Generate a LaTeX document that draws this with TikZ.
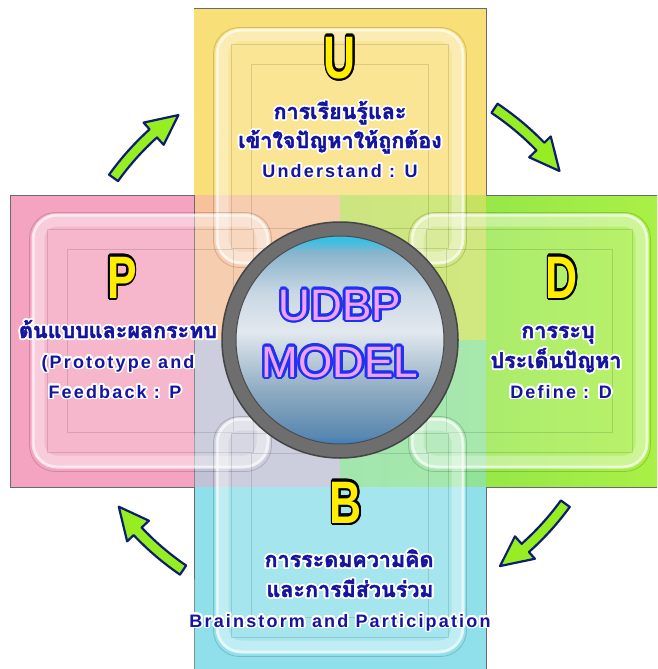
\documentclass[tikz,border=0pt]{standalone}
\usepackage{fontspec}
\setmainfont{Liberation Sans}
\newfontfamily\thaifont[Script=Thai, FakeBold=2]{Loma}
\newfontfamily\latinfont[LetterSpace=12]{Liberation Sans}
\usetikzlibrary{calc}
\definecolor{yband}{HTML}{F8DF78}
\definecolor{pband}{HTML}{F4A4C0}
\definecolor{gbandL}{HTML}{86E04A}
\definecolor{gbandR}{HTML}{AAF046}
\definecolor{cband}{HTML}{8FE0EA}
\definecolor{edgegray}{HTML}{6A6A6A}
\definecolor{tblue}{HTML}{1414A0}
\definecolor{lyel}{HTML}{FFEE00}
\definecolor{agreen}{HTML}{96EE22}
\definecolor{anavy}{HTML}{0E1E6E}
\definecolor{mpink}{HTML}{F2A0F4}
\definecolor{mblue}{HTML}{1E32F0}
\definecolor{ringgray}{HTML}{6E6E6E}
\definecolor{ringdark}{HTML}{444444}
\definecolor{orb1}{HTML}{3A7FC0}
\definecolor{orb2}{HTML}{5A88B0}
\definecolor{orb3}{HTML}{8AA8C0}
\definecolor{orb4}{HTML}{E2E8EE}
\definecolor{orb5}{HTML}{CAD8E4}
\definecolor{orb6}{HTML}{88B4CC}
\definecolor{orb7}{HTML}{38C0E4}
\pgfdeclareverticalshading{orbshade}{100bp}{color(0bp)=(orb1); color(25bp)=(orb1); color(27bp)=(orb2); color(37bp)=(orb3); color(52bp)=(orb4); color(61bp)=(orb5); color(71bp)=(orb6); color(74bp)=(orb7); color(75bp)=(orb7); color(100bp)=(orb7)}
% haloed text: #1 halo colour, #2 radius, #3 text colour, #4 text
\newcommand\halo[4]{\leavevmode\rlap{\color{#1}\foreach \hA in {0,22.5,...,337.5}{\pgfmathsetlengthmacro\hx{(#2)*cos(\hA)}\pgfmathsetlengthmacro\hy{(#2)*sin(\hA)}\rlap{\hspace*{\hx}\raisebox{\hy}{#4}}}}{\color{#3}#4}}
\newcommand\bigL[1]{\scalebox{0.74}[1]{\halo{black}{2.3pt}{lyel}{#1}}}
\newcommand\tline[1]{\halo{white}{1.8pt}{tblue}{#1}}
\begin{document}
\begin{tikzpicture}[x=1pt,y=-1pt,
  card/.style={draw=white, draw opacity=.65, line width=3pt, fill=white, fill opacity=.2, rounded corners=24pt, inner sep=0pt},
  cardglow/.style={draw=white, draw opacity=.3, line width=12pt, rounded corners=18pt},
  cardrim/.style={draw=black, draw opacity=.16, line width=.8pt, rounded corners=26pt},
  cardline/.style={draw=black, draw opacity=.12, line width=.8pt},
  thline/.style={anchor=base, inner sep=0pt, font=\thaifont\bfseries\fontsize{21.5}{21.5}\selectfont},
  enline/.style={anchor=base, inner sep=0pt, font=\latinfont\bfseries\fontsize{18}{18}\selectfont},
  bigletter/.style={anchor=base, inner sep=0pt, font=\bfseries\fontsize{60}{60}\selectfont},
  modeltxt/.style={anchor=base, inner sep=0pt, font=\fontsize{44}{44}\selectfont},
  flow/.style={fill=agreen, draw=anavy, line width=2.2pt, line join=round}]
\useasboundingbox (0,0) rectangle (657,669);
% background bands
\fill[pband] (10,195) rectangle (340,487);
\shade[left color=gbandL, right color=gbandR] (340,195) rectangle (657,487);
\fill[yband] (194,9) rectangle (486,195);
\fill[cband] (194,487) rectangle (486,669);
\fill[yband, opacity=.5] (194,195) rectangle (486,340);
\fill[cband, opacity=.5] (194,340) rectangle (486,487);
\draw[edgegray, line width=1pt] (194,9) -- (486,9) -- (486,195) -- (657,195)
  (657,487) -- (486,487) -- (486,669) (194,669) -- (194,487) -- (10,487) -- (10,195) -- (194,195) -- cycle;
% cards
\node[card, minimum width=246pt, minimum height=233pt] (cardU) at (340,146.5) {};
\node[card, minimum width=235pt, minimum height=252pt] (cardP) at (150.5,341) {};
\node[card, minimum width=235pt, minimum height=252pt] (cardD) at (529.5,341) {};
\node[card, minimum width=246pt, minimum height=233pt] (cardB) at (340,535.5) {};
\foreach \c in {cardU,cardP,cardD,cardB}{
  \draw[cardglow] ($(\c.north west)+(7,7)$) rectangle ($(\c.south east)+(-7,-7)$);
  \draw[cardrim] ($(\c.north west)+(-2,-1)$) rectangle ($(\c.south east)+(2,3)$);
  \draw[cardline] ($(\c.north west)+(16,16)$) rectangle ($(\c.south east)+(-16,-16)$);
  \draw[cardline] ($(\c.north west)+(36,36)$) rectangle ($(\c.south east)+(-36,-36)$);
}
% central button
\coordinate (C) at (340,340);
\node[circle, minimum size=236pt, fill=ringgray, draw=ringdark, line width=1.5pt] (ring) at (C) {};
\node[circle, minimum size=208pt, shading=orbshade, draw=black!70, line width=1pt] (orb) at (C) {};
\node[modeltxt] (udbp) at (340,320) {\halo{mblue}{2.6pt}{mpink}{UDBP}};
\node[modeltxt] (model) at (340,377) {\halo{mblue}{2.6pt}{mpink}{MODEL}};
% curved arrows
\foreach \a in {36,124.3,215.6,303.7}{
  \pgfmathsetmacro\b{\a+12.3}
  \pgfmathsetmacro\e{\a+18.7}
  \draw[flow] ($(C)+(\a:284)$) arc[start angle=\a, end angle=\b, radius=284]
    -- ($(C)+(\b:293)$) -- ($(C)+(\e:277)$) -- ($(C)+(\b:263)$) -- ($(C)+(\b:273)$)
    arc[start angle=\b, end angle=\a, radius=273] -- cycle;
}
% U card
\node[bigletter] (lu) at (340,78) {\bigL{U}};
\node[thline] (u1) at (340,119) {\tline{การเรียนรู้และ}};
\node[thline] (u2) at (340,148) {\tline{เข้าใจปัญหาให้ถูกต้อง}};
\node[enline] (u3) at (340,177) {\tline{Understand : U}};
% D card
\node[bigletter] (ld) at (562,298) {\bigL{D}};
\node[thline] (d1) at (558,338) {\tline{การระบุ}};
\node[thline] (d2) at (556,368) {\tline{ประเด็นปัญหา}};
\node[enline] (d3) at (561,398) {\tline{Define : D}};
% P card
\node[bigletter] (lp) at (122,298) {\bigL{P}};
\node[thline] (p1) at (118,338) {\tline{ต้นแบบและผลกระทบ}};
\node[enline] (p2) at (118,368) {\tline{(Prototype and}};
\node[enline] (p3) at (115,398) {\tline{Feedback : P}};
% B card
\node[bigletter] (lb) at (346,523) {\bigL{B}};
\node[thline] (b1) at (349,567) {\tline{การระดมความคิด}};
\node[thline] (b2) at (350,597) {\tline{และการมีส่วนร่วม}};
\node[enline] (b3) at (340,627) {\tline{Brainstorm and Participation}};
\end{tikzpicture}
\end{document}
